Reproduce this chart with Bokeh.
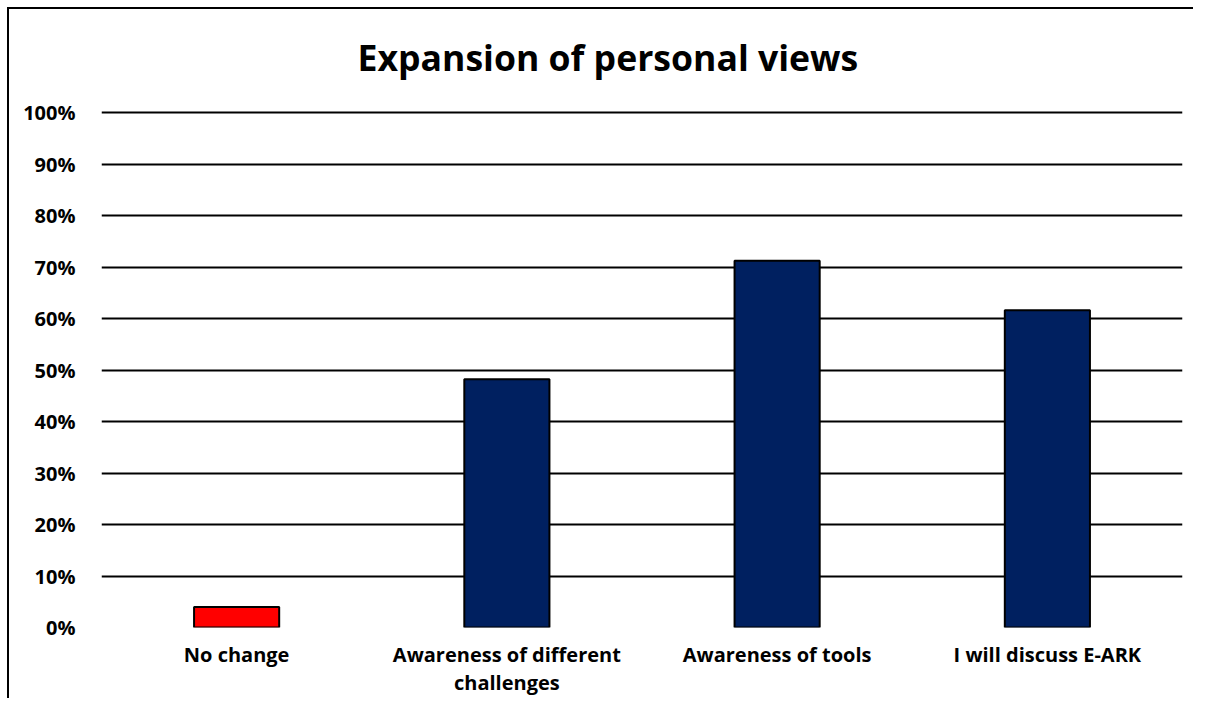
from bokeh.plotting import figure
from bokeh.models import Range1d, NumeralTickFormatter, FixedTicker, Title
from bokeh.embed import file_html
from bokeh.resources import INLINE

categories = ["No change", "Awareness of different\nchallenges", "Awareness of tools", "I will discuss E-ARK"]
values = [0.04, 0.482, 0.712, 0.616]
colors = ["#FF0000", "#002060", "#002060", "#002060"]
y_ticks = [0, 0.1, 0.2, 0.3, 0.4, 0.5, 0.6, 0.7, 0.8, 0.9, 1.0]

FONT = "Open Sans"

p = figure(x_range=categories, y_range=Range1d(0, 1.004), width=1193, height=698,
           output_backend="svg", toolbar_location=None,
           min_border_left=101, min_border_right=11, min_border_top=110, min_border_bottom=71)
p.border_fill_color = None
p.background_fill_color = "white"
p.styles = {
    "background-color": "white",
    "background-image": "linear-gradient(black, black), linear-gradient(black, black)",
    "background-size": "2px 100%, 100% 2px",
    "background-position": "7px 7px, 7px 7px",
    "background-repeat": "no-repeat",
}

p.vbar(x=categories, top=values, width=0.315, fill_color=colors, line_color="black", line_width=2)

p.outline_line_color = None
p.xgrid.grid_line_color = None
p.ygrid.grid_line_color = "black"
p.ygrid.grid_line_width = 2
p.yaxis.ticker = FixedTicker(ticks=y_ticks)
p.yaxis.formatter = NumeralTickFormatter(format="0%")
for ax in (p.xaxis, p.yaxis):
    ax.axis_line_color = None
    ax.major_tick_line_color = None
    ax.minor_tick_line_color = None
    ax.major_label_text_font = FONT
    ax.major_label_text_font_style = "bold"
    ax.major_label_text_font_size = "20px"
    ax.major_label_text_color = "black"
p.xaxis.major_label_text_line_height = 1.05
p.yaxis.major_label_standoff = 20
p.xaxis.major_label_standoff = 7

t = Title(text="Expansion of personal views", text_font=FONT, text_font_style="bold",
          text_font_size="35.6px", text_color="black", align="left", offset=256)
p.title = t
p.title.standoff = 60

open("out.html", "w").write(file_html(p, INLINE))
